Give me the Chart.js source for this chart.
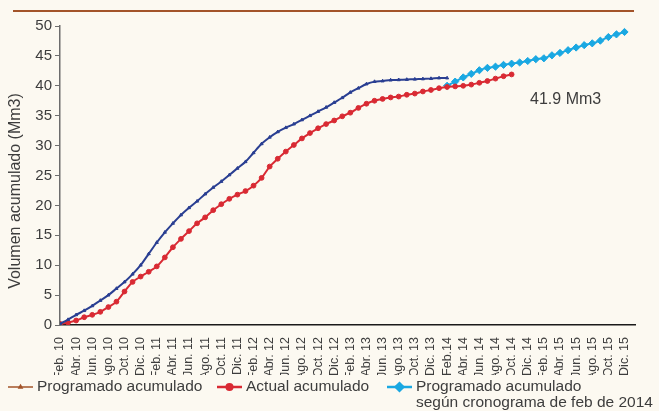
<!DOCTYPE html>
<html>
<head>
<meta charset="utf-8">
<script src="https://cdn.jsdelivr.net/npm/chart.js@4/dist/chart.umd.min.js"></script>
<style>
  html, body { margin: 0; padding: 0; background: #FCF9F1; }
  #wrap { width: 659px; height: 411px; position: relative; }
  canvas { display: block; }
</style>
</head>
<body>
<div id="wrap"><canvas id="chart" width="659" height="411"></canvas></div>
<script>
// Eje X: un dato por mes desde Feb. 10; se rotula cada dos meses
const tickLabels = [
  'Feb. 10', 'Abr. 10', 'Jun. 10', 'Ago. 10', 'Oct. 10', 'Dic. 10',
  'Feb. 11', 'Abr. 11', 'Jun. 11', 'Ago. 11', 'Oct. 11', 'Dic. 11',
  'Feb. 12', 'Abr. 12', 'Jun. 12', 'Ago. 12', 'Oct. 12', 'Dic. 12',
  'Feb. 13', 'Abr. 13', 'Jun. 13', 'Ago. 13', 'Oct. 13', 'Dic. 13',
  'Feb.14', 'Abr. 14', 'Jun. 14', 'Ago. 14', 'Oct. 14', 'Dic. 14',
  'Feb. 15', 'Abr. 15', 'Jun. 15', 'Ago. 15', 'Oct. 15', 'Dic. 15'
];
const yTicks = [0, 5, 10, 15, 20, 25, 30, 35, 40, 45, 50];

// Programado acumulado (Mm3), Feb. 10 - Feb. 14
const programado = [
  0.2, 0.9, 1.7, 2.4, 3.2, 4.1, 5.0, 6.1, 7.2, 8.5,
  10.0, 11.9, 13.8, 15.5, 17.0, 18.4, 19.6, 20.7, 21.9, 23.0,
  24.0, 25.1, 26.2, 27.3, 28.8, 30.3, 31.4, 32.3, 33.0, 33.6,
  34.3, 35.0, 35.7, 36.4, 37.2, 38.0, 38.9, 39.6, 40.3, 40.7,
  40.8, 40.95, 41.0, 41.05, 41.1, 41.15, 41.2, 41.3, 41.3
];
const programadoInicio = 0;

// Actual acumulado (Mm3), Feb. 10 - Oct. 14
const actual = [
  0.2, 0.4, 0.75, 1.3, 1.7, 2.2, 3.0, 3.9, 5.6, 7.2,
  8.1, 8.9, 9.8, 11.3, 13.0, 14.4, 15.7, 17.0, 18.0, 19.2,
  20.2, 21.1, 21.8, 22.4, 23.3, 24.6, 26.5, 27.8, 29.0, 30.1,
  31.2, 32.1, 32.9, 33.6, 34.2, 34.9, 35.5, 36.3, 37.0, 37.5,
  37.8, 38.05, 38.2, 38.5, 38.7, 39.05, 39.3, 39.6, 39.8, 39.9,
  40.0, 40.2, 40.5, 40.8, 41.2, 41.6, 41.9
];
const actualInicio = 0;

// Programado acumulado según cronograma de feb de 2014 (Mm3), Feb.14 - Dic. 15
const cronograma2014 = [
  40.0, 40.7, 41.4, 42.0, 42.6, 43.0, 43.2, 43.5, 43.7, 43.9,
  44.15, 44.45, 44.6, 45.1, 45.5, 45.95, 46.4, 46.8, 47.1, 47.55,
  48.15, 48.6, 49.0
];
const cronograma2014Inicio = 48;

const seriesNames = [
  ['Programado acumulado'],
  ['Actual acumulado'],
  ['Programado acumulado', 'según cronograma de feb de 2014']
];
const yTitle = 'Volumen acumulado (Mm3)';
const notaTexto = '41.9 Mm3';

const FONT = "'Liberation Sans', Arial, sans-serif";
const TEXT = '#3d3d3d';
const NAVY = '#2A3F92';
const RED = '#D92A33';
const CYAN = '#1AA8E2';
const BROWN = '#A3542A';

const toPoints = (arr, start) => arr.map((v, i) => ({ x: start + i, y: v }));

// Fondo, línea superior, título del eje Y, nota y leyenda
const decor = {
  id: 'decor',
  beforeDraw(chart) {
    const { ctx } = chart;
    ctx.save();
    ctx.fillStyle = '#FCF9F1';
    ctx.fillRect(0, 0, chart.width, chart.height);
    ctx.strokeStyle = BROWN;
    ctx.lineWidth = 2;
    ctx.beginPath();
    ctx.moveTo(13, 11);
    ctx.lineTo(634, 11);
    ctx.stroke();
    ctx.restore();
  },
  afterDraw(chart) {
    const { ctx, scales } = chart;
    ctx.save();
    // título del eje Y
    ctx.translate(16, 191);
    ctx.rotate(-Math.PI / 2);
    ctx.fillStyle = TEXT;
    ctx.font = '16px ' + FONT;
    ctx.textAlign = 'center';
    ctx.textBaseline = 'middle';
    ctx.fillText(yTitle, 0, 0);
    ctx.restore();

    // nota junto a la serie actual
    ctx.save();
    ctx.fillStyle = TEXT;
    ctx.font = '16px ' + FONT;
    ctx.textAlign = 'center';
    ctx.textBaseline = 'middle';
    ctx.fillText(notaTexto, scales.x.getPixelForValue(62.7), scales.y.getPixelForValue(37.7));
    ctx.restore();

    // leyenda
    const items = [
      { x: 8, color: BROWN, style: 'triangle', r: 1.8, names: seriesNames[0] },
      { x: 217, color: RED, style: 'circle', r: 2.8, names: seriesNames[1] },
      { x: 387, color: CYAN, style: 'rectRot', r: 3.8, names: seriesNames[2] }
    ];
    const y0 = 387;
    items.forEach(it => {
      ctx.save();
      ctx.strokeStyle = it.color;
      ctx.lineWidth = it.style === 'triangle' ? 1.5 : 2.5;
      ctx.beginPath();
      ctx.moveTo(it.x, y0);
      ctx.lineTo(it.x + 25, y0);
      ctx.stroke();
      ctx.fillStyle = it.color;
      Chart.helpers.drawPoint(ctx, { pointStyle: it.style, radius: it.r, rotation: 0, borderWidth: 1 }, it.x + 12.5, y0);
      ctx.fillStyle = TEXT;
      ctx.font = '15.5px ' + FONT;
      ctx.textAlign = 'left';
      ctx.textBaseline = 'middle';
      it.names.forEach((t, k) => ctx.fillText(t, it.x + 29, y0 + k * 15.5));
      ctx.restore();
    });
  }
};

new Chart(document.getElementById('chart'), {
  type: 'line',
  data: {
    datasets: [
      {
        label: seriesNames[0].join(' '),
        data: toPoints(programado, programadoInicio),
        borderColor: NAVY,
        backgroundColor: NAVY,
        borderWidth: 2,
        pointStyle: 'triangle',
        pointRadius: 1.8,
        pointBorderWidth: 1,
        tension: 0.3
      },
      {
        label: seriesNames[1].join(' '),
        data: toPoints(actual, actualInicio),
        borderColor: RED,
        backgroundColor: RED,
        borderWidth: 2,
        pointStyle: 'circle',
        pointRadius: 2.4,
        pointBorderWidth: 1,
        tension: 0.3
      },
      {
        label: seriesNames[2].join(' '),
        data: toPoints(cronograma2014, cronograma2014Inicio),
        borderColor: CYAN,
        backgroundColor: CYAN,
        borderWidth: 2,
        pointStyle: 'rectRot',
        pointRadius: 3.6,
        pointBorderWidth: 1,
        tension: 0.2
      }
    ]
  },
  options: {
    responsive: false,
    devicePixelRatio: 1,
    animation: false,
    layout: { padding: { left: 0, right: 24, top: 26, bottom: 36 } },
    plugins: {
      legend: { display: false },
      tooltip: { enabled: false }
    },
    scales: {
      x: {
        type: 'linear',
        min: 0,
        max: 71.3,
        afterFit: s => { s.height = 50; },
        grid: { display: false },
        border: { display: true, color: '#1a1a1a', width: 1.5 },
        ticks: {
          stepSize: 2,
          includeBounds: false,
          autoSkip: false,
          minRotation: 90,
          maxRotation: 90,
          padding: 4,
          color: TEXT,
          font: { family: FONT, size: 12.5 },
          callback: v => (v % 2 === 0 ? tickLabels[v / 2] : '')
        }
      },
      y: {
        min: yTicks[0],
        max: yTicks[yTicks.length - 1],
        afterFit: s => { s.width = 60; },
        afterBuildTicks: s => { s.ticks = yTicks.map(v => ({ value: v })); },
        grid: { drawOnChartArea: false, tickLength: 5, color: '#6d6d6d' },
        border: { display: true, color: '#6d6d6d', width: 1.5 },
        ticks: {
          padding: 3,
          color: TEXT,
          font: { family: FONT, size: 15 }
        }
      }
    }
  },
  plugins: [decor]
});
</script>
</body>
</html>
